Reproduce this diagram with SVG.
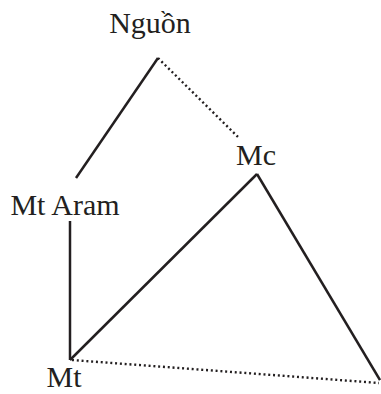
<svg xmlns="http://www.w3.org/2000/svg" width="381" height="394" viewBox="0 0 381 394">
  <style>
    .lbl { font-family: "Liberation Serif", "Times New Roman", serif; font-size: 30px; fill: #231f20; text-anchor: middle; }
    .solid { stroke: #231f20; stroke-width: 2.5; fill: none; }
    .dot { stroke: #231f20; stroke-width: 2.4; fill: none; stroke-dasharray: 2 2.8; }
  </style>
  <rect width="381" height="394" fill="#ffffff"/>
  <g id="connectors">
    <line class="solid" x1="158" y1="58" x2="76" y2="178"/>
    <line class="dot" x1="158" y1="58" x2="238" y2="137"/>
    <line class="solid" x1="70" y1="221" x2="70" y2="360"/>
    <line class="solid" x1="70" y1="360" x2="257" y2="174"/>
    <line class="solid" x1="257" y1="174" x2="380" y2="380"/>
    <line class="dot" x1="72" y1="360" x2="379" y2="383"/>
  </g>
  <g id="nguon"><text class="lbl" x="150" y="33">Nguồn</text></g>
  <g id="mt-aram"><text class="lbl" x="65" y="215">Mt Aram</text></g>
  <g id="mc"><text class="lbl" x="256" y="165">Mc</text></g>
  <g id="mt"><text class="lbl" x="64" y="387">Mt</text></g>
</svg>
